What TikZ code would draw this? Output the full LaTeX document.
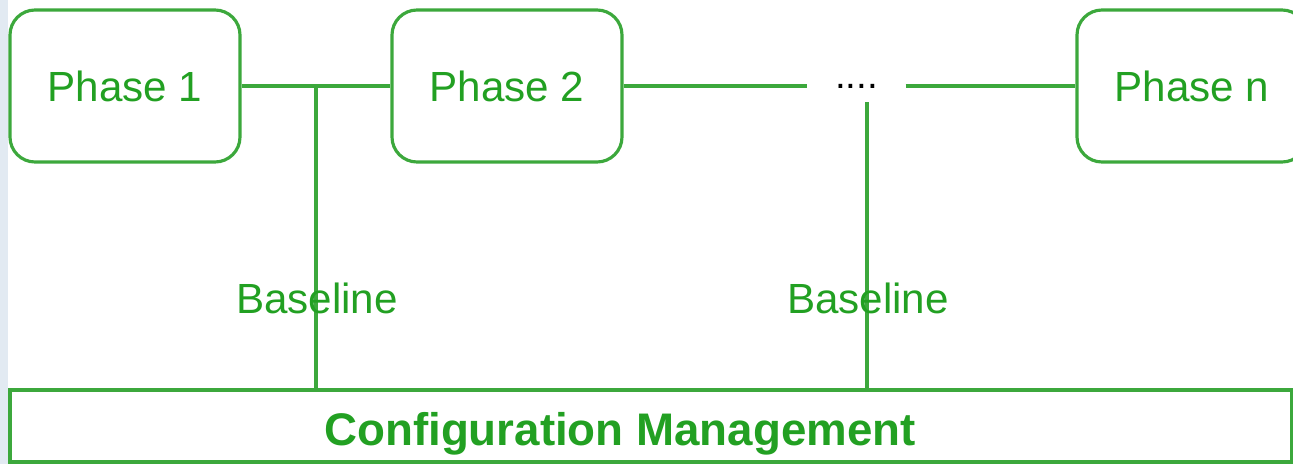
\documentclass[tikz,border=0pt]{standalone}
\usepackage{fontspec}
\setmainfont{Liberation Sans}
\usetikzlibrary{positioning}
\definecolor{lineGreen}{RGB}{60,168,60}
\definecolor{textGreen}{RGB}{34,160,34}
\definecolor{edgeBlue}{RGB}{226,234,242}
\tikzset{
  phasebox/.style={draw=lineGreen, line width=0.9pt, rounded corners=0.25cm,
    minimum width=2.30cm, minimum height=1.52cm, text=textGreen,
    font=\fontsize{12}{14}\selectfont},
  link/.style={draw=lineGreen, line width=0.9pt},
  baselabel/.style={text=textGreen, font=\fontsize{12}{14}\selectfont, inner sep=0pt}
}
\begin{document}
\begin{tikzpicture}
      \useasboundingbox (0,0) rectangle (12.93,4.64);
      \pgfmathsetmacro{\Y}{3.78}
      \pgfmathsetmacro{\Xa}{3.16}
      \pgfmathsetmacro{\Xb}{8.67}
      \fill[edgeBlue] (0,0) rectangle (0.08,4.64);
      \node[phasebox] (phase1) at (1.25,\Y) {Phase 1};
      \node[phasebox] (phase2) at (5.07,\Y) {Phase 2};
      \node[phasebox] (phasen) at (11.92,\Y) {Phase n};
      \node[minimum width=0.97cm, inner ysep=1pt, font=\fontsize{11}{12}\selectfont] (dots) at (8.565,\Y) {....};
      \node[draw=lineGreen, line width=0.9pt, minimum width=12.82cm, minimum height=0.72cm] (cm) at (6.51,0.38) {};
      \node[anchor=base, text=textGreen, font=\fontsize{13}{15}\selectfont\bfseries] (cmlabel) at (6.20,0.19) {Configuration Management};
      \coordinate (b1) at (\Xa,\Y);
      \coordinate (b2) at (\Xb,3.62);
      \draw[link] (phase1) -- (phase2);
      \draw[link] (phase2) -- (dots);
      \draw[link] (dots) -- (phasen);
      \draw[link] (b1) -- (b1 |- cm.north);
      \draw[link] (b2) -- (b2 |- cm.north);
      \node[baselabel] (base1) at (3.17,1.66) {Baseline};
      \node[baselabel] (base2) at (8.68,1.66) {Baseline};
    \end{tikzpicture}
\end{document}
